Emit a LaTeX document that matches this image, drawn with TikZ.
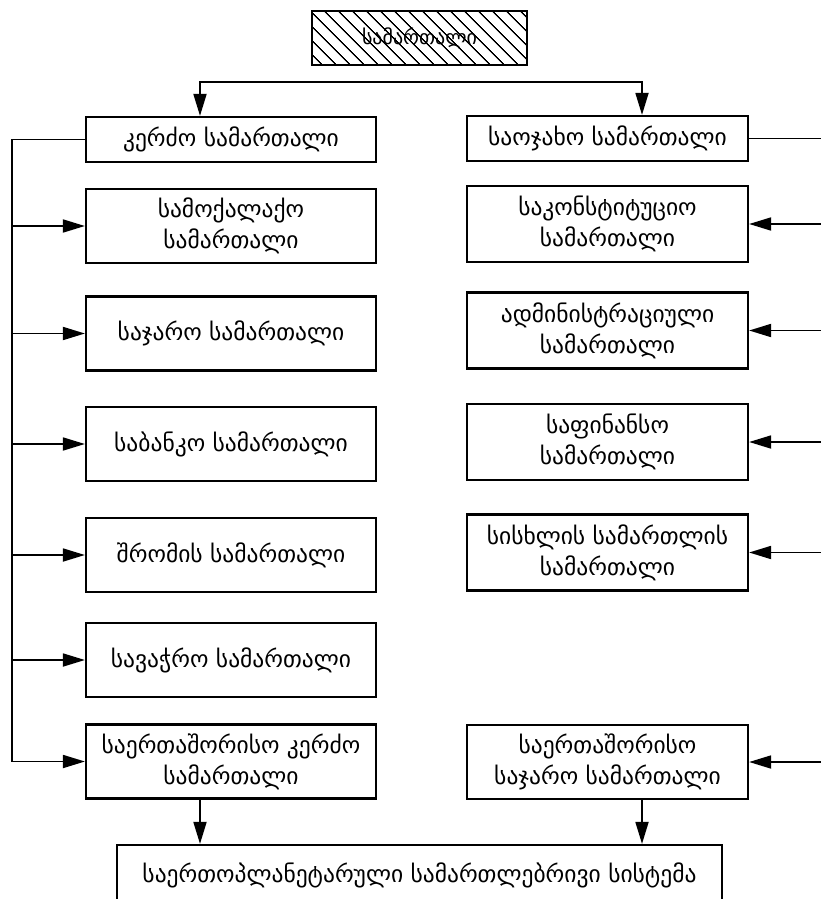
\documentclass[tikz,border=0pt]{standalone}
\usepackage{fontspec}
\setmainfont{DejaVu Sans}
\usetikzlibrary{positioning,arrows.meta,patterns.meta}

\begin{document}
\begin{tikzpicture}[
    x=1pt, y=-1pt,
    >={Triangle[length=22pt,width=13pt]},
    box/.style={draw, line width=2.2pt, align=center, inner sep=0pt,
      font=\fontsize{23.5}{31}\selectfont},
    leftbox/.style={box, minimum width=290pt, minimum height=74pt},
    rightbox/.style={box, minimum width=281pt, minimum height=76pt},
    headbox/.style={box, minimum height=45pt},
    link/.style={->, line width=1.8pt}
  ]
  \useasboundingbox (0,0) rectangle (820,899);

  % title
  \node[box, minimum width=215pt, minimum height=54pt,
    pattern={Lines[angle=-45,distance=10.5pt,line width=1.4pt]},
    font=\fontsize{20}{22}\selectfont] (law) at (419.5,38) {სამართალი};
  \coordinate (split) at (419.5,82);

  % the two branches
  \node[headbox, minimum width=290pt] (private) at (231,139.5) {კერძო სამართალი};
  \node[headbox, minimum width=281pt] (family) at (607.5,138.5) {საოჯახო სამართალი};

  % left column
  \node[leftbox] (civil)    at (231,226)   {სამოქალაქო\\სამართალი};
  \node[leftbox] (public)   at (231,333.5) {საჯარო სამართალი};
  \node[leftbox] (banking)  at (231,444)   {საბანკო სამართალი};
  \node[leftbox] (labour)   at (231,555)   {შრომის სამართალი};
  \node[leftbox] (trade)    at (231,660)   {სავაჭრო სამართალი};
  \node[leftbox] (intpriv)  at (231,761.5) {საერთაშორისო კერძო\\სამართალი};

  % right column
  \node[rightbox] (constit) at (607.5,224)   {საკონსტიტუციო\\სამართალი};
  \node[rightbox] (admin)   at (607.5,330.5) {ადმინისტრაციული\\სამართალი};
  \node[rightbox] (finance) at (607.5,442)   {საფინანსო\\სამართალი};
  \node[rightbox] (criminal) at (607.5,552.5) {სისხლის სამართლის\\სამართალი};
  \node[rightbox, minimum height=74pt] (intpub) at (607.5,762) {საერთაშორისო\\საჯარო სამართალი};

  % bottom
  \node[box, minimum width=605pt, minimum height=60pt] (planet) at (419.5,875)
    {საერთოპლანეტარული სამართლებრივი სისტემა};

  % buses
  \coordinate (lbus) at (12,450);
  \coordinate (rbus) at (822,450);

  \draw[link] (split) -| ([xshift=-31pt]private.north);
  \draw[link] (split) -| ([xshift=34.5pt]family.north);

  \draw[link] (private.west) -| (lbus) |- (intpriv.west);
  \foreach \n in {civil,public,banking,labour,trade}
    \draw[link] (lbus |- \n.west) -- (\n.west);

  \draw[link] (family.east) -| (rbus) |- (intpub.east);
  \foreach \n in {constit,admin,finance,criminal}
    \draw[link] (rbus |- \n.east) -- (\n.east);

  \draw[link] ([xshift=-31pt]intpriv.south) -- ([xshift=-31pt]intpriv.south |- planet.north);
  \draw[link] ([xshift=34.5pt]intpub.south) -- ([xshift=34.5pt]intpub.south |- planet.north);

\end{tikzpicture}
\end{document}
